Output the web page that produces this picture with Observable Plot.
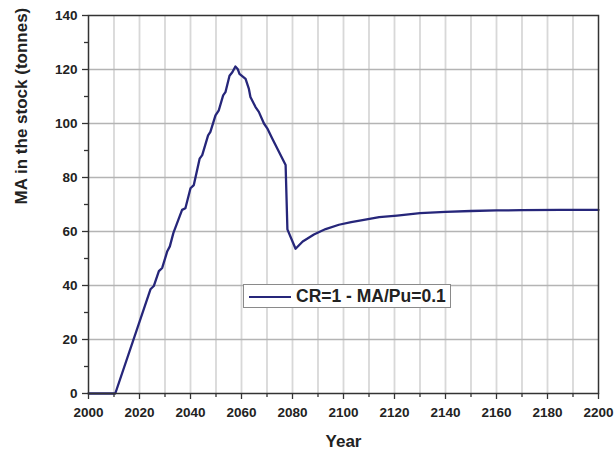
<!DOCTYPE html>
<html>
<head>
<meta charset="utf-8">
<script src="https://cdn.jsdelivr.net/npm/d3@7"></script>
<script src="https://cdn.jsdelivr.net/npm/@observablehq/plot@0.6"></script>
<style>
  html, body { margin: 0; padding: 0; background: #fff; }
  #wrap { position: relative; width: 614px; height: 453px; font-family: "Liberation Sans", Arial, sans-serif; }
  #legend { position: absolute; left: 243px; top: 284px; width: 208px; height: 24px; border: 1px solid #8a8a8a; background: #fff; box-sizing: border-box; }
  #legend .sw { position: absolute; left: 5px; top: 11px; width: 42px; height: 0; border-top: 2px solid #26267a; }
  #legend .tx { position: absolute; left: 52px; top: 1px; font-size: 17.5px; font-weight: bold; color: #222; line-height: 20px; white-space: nowrap; }
</style>
</head>
<body>
<div id="wrap"></div>
<script>
// Series values
const years = [2000, 2010.5, 2024.3, 2025.6, 2027.6, 2028.9, 2030.9, 2031.9, 2033.3, 2036.7, 2038, 2040, 2041.3, 2043.6, 2044.6, 2046.9, 2047.8, 2049.8, 2051.1, 2052.8, 2053.7, 2055.3, 2056.4, 2057.6, 2058.5, 2059.2, 2061.6, 2062.9, 2063.5, 2065.5, 2066.8, 2068.8, 2070.1, 2072, 2077.3, 2078, 2081.2, 2084, 2088.4, 2093, 2098.2, 2103, 2108, 2114, 2121, 2130, 2140, 2150, 2160, 2170, 2185, 2200];
const stock = [0, 0, 38.6, 39.8, 45.3, 46.5, 52.7, 54.5, 59.5, 68, 68.6, 76, 77.2, 87, 88.3, 95.6, 96.9, 103, 104.9, 110.4, 111.6, 117.7, 119, 121.1, 120.2, 118.4, 116.5, 112.8, 109.8, 106.1, 104.3, 100, 98.2, 94.5, 84.6, 60.8, 53.6, 56.3, 58.9, 60.9, 62.5, 63.5, 64.3, 65.3, 65.9, 66.8, 67.3, 67.6, 67.8, 67.9, 68, 68];
const xMajorTicks = [2000, 2020, 2040, 2060, 2080, 2100, 2120, 2140, 2160, 2180, 2200];
const xMinorTicks = [2010, 2030, 2050, 2070, 2090, 2110, 2130, 2150, 2170, 2190];
const xGrid = [2010, 2020, 2030, 2040, 2050, 2060, 2070, 2080, 2090, 2100, 2110, 2120, 2130, 2140, 2150, 2160, 2170, 2180, 2190];
const yMajorTicks = [0, 20, 40, 60, 80, 100, 120, 140];
const yMinorTicks = [10, 30, 50, 70, 90, 110, 130];
const yGrid = [20, 40, 60, 80, 100, 120];
const xTitle = "Year";
const yTitle = "MA in the stock (tonnes)";
const seriesLabel = "CR=1 - MA/Pu=0.1";

const data = years.map((y, i) => ({year: y, value: stock[i]}));
const lineColor = "#26267a";
const fontFamily = "'Liberation Sans', Arial, sans-serif";

const chart = Plot.plot({
  width: 614,
  height: 453,
  marginTop: 15,
  marginRight: 16,
  marginBottom: 60,
  marginLeft: 88,
  x: {domain: [2000, 2200]},
  y: {domain: [0, 140]},
  style: {fontFamily, fontSize: "13.5px", fontWeight: "bold", color: "#222", background: "#fff"},
  marks: [
    Plot.ruleX(xGrid, {x: d => d, stroke: "#d8d8d8", strokeOpacity: 1, strokeWidth: 1.8}),
    Plot.gridY({ticks: yGrid, stroke: "#b4b4b4", strokeOpacity: 1, strokeWidth: 1.3}),
    Plot.line(data, {x: "year", y: "value", stroke: lineColor, strokeWidth: 2.3, strokeLinejoin: "round"}),
    Plot.frame({stroke: "#333", strokeWidth: 1.5}),
    Plot.axisX({ticks: xMajorTicks, tickSize: 6, tickPadding: 8, label: null, stroke: "#333", strokeWidth: 1.3, fontSize: 13.5, fontWeight: "bold", fill: "#222", tickFormat: d => String(d)}),
    Plot.axisX({ticks: xMinorTicks, tickSize: 4, label: null, stroke: "#333", strokeWidth: 1.3, tickFormat: () => ""}),
    Plot.axisY({ticks: yMajorTicks, tickSize: 6, tickPadding: 5, label: null, stroke: "#333", strokeWidth: 1.3, fontSize: 13.5, fontWeight: "bold", fill: "#222"}),
    Plot.axisY({ticks: yMinorTicks, tickSize: 4, label: null, stroke: "#333", strokeWidth: 1.3, tickFormat: () => ""}),
    Plot.text([xTitle], {frameAnchor: "bottom", dy: 53, text: d => d, fontSize: 17, fontWeight: "bold", fill: "#222"}),
    Plot.text([yTitle], {frameAnchor: "left", dx: -67, rotate: -90, text: d => d, fontSize: 17, fontWeight: "bold", fill: "#222"})
  ]
});

const wrap = document.getElementById("wrap");
wrap.appendChild(chart);
const legend = document.createElement("div");
legend.id = "legend";
legend.innerHTML = '<div class="sw"></div><div class="tx"></div>';
legend.querySelector(".tx").textContent = seriesLabel;
wrap.appendChild(legend);
</script>
</body>
</html>
